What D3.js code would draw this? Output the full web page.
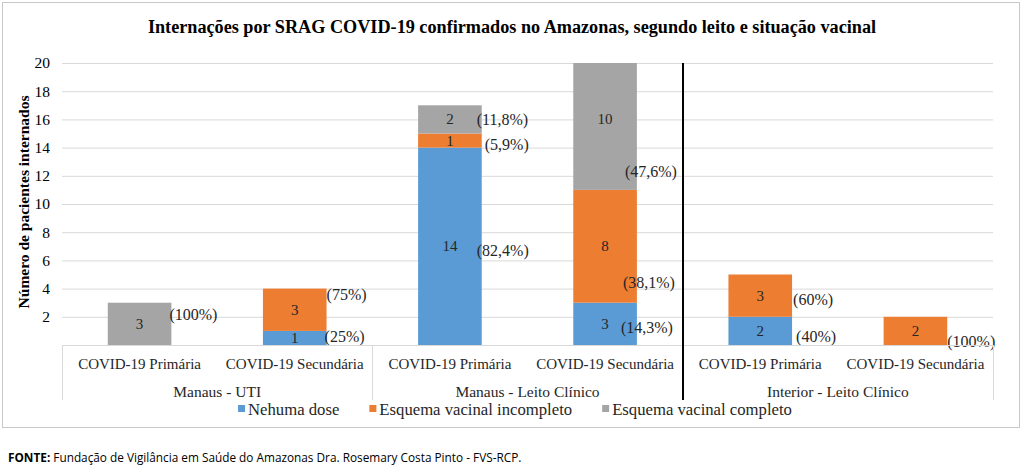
<!DOCTYPE html>
<html>
<head>
<meta charset="utf-8">
<script src="https://cdn.jsdelivr.net/npm/d3@7"></script>
<style>
  html, body { margin: 0; padding: 0; background: #fff; }
  svg { display: block; }
</style>
</head>
<body>
<script>
// ---------------- DATA ----------------
const groups = ["Manaus - UTI", "Manaus - Leito Clínico", "Interior - Leito Clínico"];
const categories = ["COVID-19 Primária", "COVID-19 Secundária", "COVID-19 Primária", "COVID-19 Secundária", "COVID-19 Primária", "COVID-19 Secundária"];
const categoryGroup = [0, 0, 1, 1, 2, 2];
const seriesNames = ["Nehuma dose", "Esquema vacinal incompleto", "Esquema vacinal completo"];
const nenhumaDose = [0, 1, 14, 3, 2, 0];
const incompleto = [0, 3, 1, 8, 3, 2];
const completo = [3, 0, 2, 10, 0, 0];
const pctNenhuma = [null, "(25%)", "(82,4%)", "(14,3%)", "(40%)", null];
const pctIncompleto = [null, "(75%)", "(5,9%)", "(38,1%)", "(60%)", "(100%)"];
const pctCompleto = ["(100%)", null, "(11,8%)", "(47,6%)", null, null];
const yTicks = [2, 4, 6, 8, 10, 12, 14, 16, 18, 20];
const yMax = 20;

// ---------------- LAYOUT ----------------
const W = 1024, H = 469;
const colors = ["#5b9bd5", "#ed7d31", "#a5a5a5"];
const serif = "'Liberation Serif', 'Times New Roman', serif";
const plot = { left: 62, right: 993, top: 63, bottom: 345 };
// label nudges (px) for percentage labels: [category][series] -> [dx, dy]
const pctNudge = {
  "0-2": [-2, -9], "1-1": [0, -15], "1-0": [-2, -1],
  "2-2": [-5, 0], "2-1": [3, 4], "2-0": [-5, 4],
  "3-2": [-12, 52], "3-1": [-14, 36], "3-0": [-16, 4],
  "4-1": [1, 4], "4-0": [4, 6], "5-1": [0, 11]
};

const svg = d3.select("body").append("svg").attr("width", W).attr("height", H);
svg.append("rect").attr("width", W).attr("height", H).attr("fill", "#fff");

// outer border
svg.append("rect").attr("x", 2.5).attr("y", 2.5).attr("width", 1017).attr("height", 425)
  .attr("fill", "none").attr("stroke", "#c8c8c8").attr("stroke-width", 1);

// title
svg.append("text").attr("x", 512).attr("y", 27).attr("text-anchor", "middle")
  .attr("dominant-baseline", "central")
  .style("font-family", serif).style("font-weight", "bold").style("font-size", "18.2px")
  .attr("fill", "#000")
  .text("Internações por SRAG COVID-19 confirmados no Amazonas, segundo leito e situação vacinal");

// scales
const x = d3.scaleBand().domain(d3.range(categories.length))
  .range([plot.left, plot.right]).paddingInner(0.59).paddingOuter(0.295);
const y = d3.scaleLinear().domain([0, yMax]).range([plot.bottom, plot.top]);

// gridlines + y tick labels
const yAxis = d3.axisLeft(y).tickValues(yTicks).tickSize(-(plot.right - plot.left)).tickPadding(12);
const gy = svg.append("g").attr("transform", `translate(${plot.left},0)`).call(yAxis);
gy.select(".domain").remove();
gy.selectAll(".tick line").attr("stroke", "#d9d9d9").attr("stroke-width", 1);
gy.selectAll(".tick text").style("font-family", serif).style("font-size", "15.5px").attr("fill", "#000");

// y axis title
svg.append("text")
  .attr("transform", `translate(23,202) rotate(-90)`)
  .attr("text-anchor", "middle").attr("dominant-baseline", "central")
  .style("font-family", serif).style("font-weight", "bold").style("font-size", "15.5px")
  .text("Número de pacientes internados");

// stacked data
const table = categories.map((c, i) => ({ i, s0: nenhumaDose[i], s1: incompleto[i], s2: completo[i] }));
const stack = d3.stack().keys(["s0", "s1", "s2"]);
const stacked = stack(table);
const pcts = [pctNenhuma, pctIncompleto, pctCompleto];

svg.append("clipPath").attr("id", "clip").append("rect")
  .attr("x", plot.left).attr("y", plot.top).attr("width", plot.right - plot.left).attr("height", plot.bottom - plot.top);

const barsG = svg.append("g").attr("clip-path", "url(#clip)");
stacked.forEach((layer, si) => {
  barsG.selectAll(null).data(layer.filter(d => d[1] - d[0] > 0)).enter().append("rect")
    .attr("x", d => x(d.data.i))
    .attr("width", x.bandwidth())
    .attr("y", d => y(d[1]))
    .attr("height", d => y(d[0]) - y(d[1]))
    .attr("fill", colors[si]);
});

// value labels & percent labels
const labG = svg.append("g");
stacked.forEach((layer, si) => {
  layer.forEach(d => {
    const v = d[1] - d[0];
    if (v <= 0) return;
    const i = d.data.i;
    const cy = y((d[0] + d[1]) / 2);
    labG.append("text").attr("x", x(i) + x.bandwidth() / 2).attr("y", cy)
      .attr("text-anchor", "middle").attr("dominant-baseline", "central")
      .style("font-family", serif).style("font-size", "15px").attr("fill", "#262626")
      .text(v);
    const p = pcts[si][i];
    if (p) {
      const n = pctNudge[i + "-" + si] || [0, 0];
      labG.append("text").attr("x", x(i) + x.bandwidth() + n[0]).attr("y", cy + n[1])
        .attr("dominant-baseline", "central")
        .style("font-family", serif).style("font-size", "16px").attr("fill", "#262626")
        .text(p);
    }
  });
});

// category axis box
const axG = svg.append("g");
const axisBottom = 400;
axG.append("line").attr("x1", plot.left).attr("x2", plot.right).attr("y1", plot.bottom + 0.5).attr("y2", plot.bottom + 0.5)
  .attr("stroke", "#d9d9d9");
// group boundaries
const groupEnds = groups.map((g, gi) => {
  const idx = categoryGroup.map((v, k) => v === gi ? k : -1).filter(k => k >= 0);
  return x(idx[idx.length - 1]) + x.bandwidth() + x.step() * x.paddingInner() / 2;
});
const boundaryXs = [plot.left, groupEnds[0], groupEnds[1], plot.right];
boundaryXs.forEach((bx, k) => {
  if (k === 2) return;
  axG.append("line").attr("x1", Math.round(bx) + 0.5).attr("x2", Math.round(bx) + 0.5)
    .attr("y1", plot.bottom).attr("y2", axisBottom).attr("stroke", "#d9d9d9");
});
// black divider
axG.append("line").attr("x1", Math.round(boundaryXs[2])).attr("x2", Math.round(boundaryXs[2]))
  .attr("y1", plot.top).attr("y2", axisBottom).attr("stroke", "#000").attr("stroke-width", 2);

categories.forEach((c, i) => {
  axG.append("text").attr("x", x(i) + x.bandwidth() / 2).attr("y", 364)
    .attr("text-anchor", "middle").attr("dominant-baseline", "central")
    .style("font-family", serif).style("font-size", "15px").attr("fill", "#262626").text(c);
});
groups.forEach((g, gi) => {
  axG.append("text").attr("x", (boundaryXs[gi] + boundaryXs[gi + 1]) / 2).attr("y", 391)
    .attr("text-anchor", "middle").attr("dominant-baseline", "central")
    .style("font-family", serif).style("font-size", "15.5px").attr("fill", "#262626").text(g);
});

// legend
const legG = svg.append("g");
let lx = 0;
seriesNames.forEach((s, si) => {
  const gI = legG.append("g");
  gI.append("rect").attr("x", 0).attr("y", -4).attr("width", 7).attr("height", 7).attr("fill", colors[si]);
  const t = gI.append("text").attr("x", 10).attr("y", 0).attr("dominant-baseline", "central")
    .style("font-family", serif).style("font-size", "16.7px").attr("fill", "#262626").text(s);
  const w = 10 + t.node().getComputedTextLength();
  gI.attr("transform", `translate(${lx},409)`);
  lx += w + 30;
});
const totalW = lx - 30;
legG.attr("transform", `translate(${515 - totalW / 2},0)`);

// source
const src = svg.append("text").attr("x", 8).attr("y", 457).attr("dominant-baseline", "central")
  .style("font-family", "'Open Sans', 'Liberation Sans', sans-serif").style("font-size", "11.8px").attr("fill", "#000");
src.append("tspan").style("font-weight", "bold").text("FONTE:");
src.append("tspan").text(" Fundação de Vigilância em Saúde do Amazonas Dra. Rosemary Costa Pinto - FVS-RCP.");
</script>
</body>
</html>
